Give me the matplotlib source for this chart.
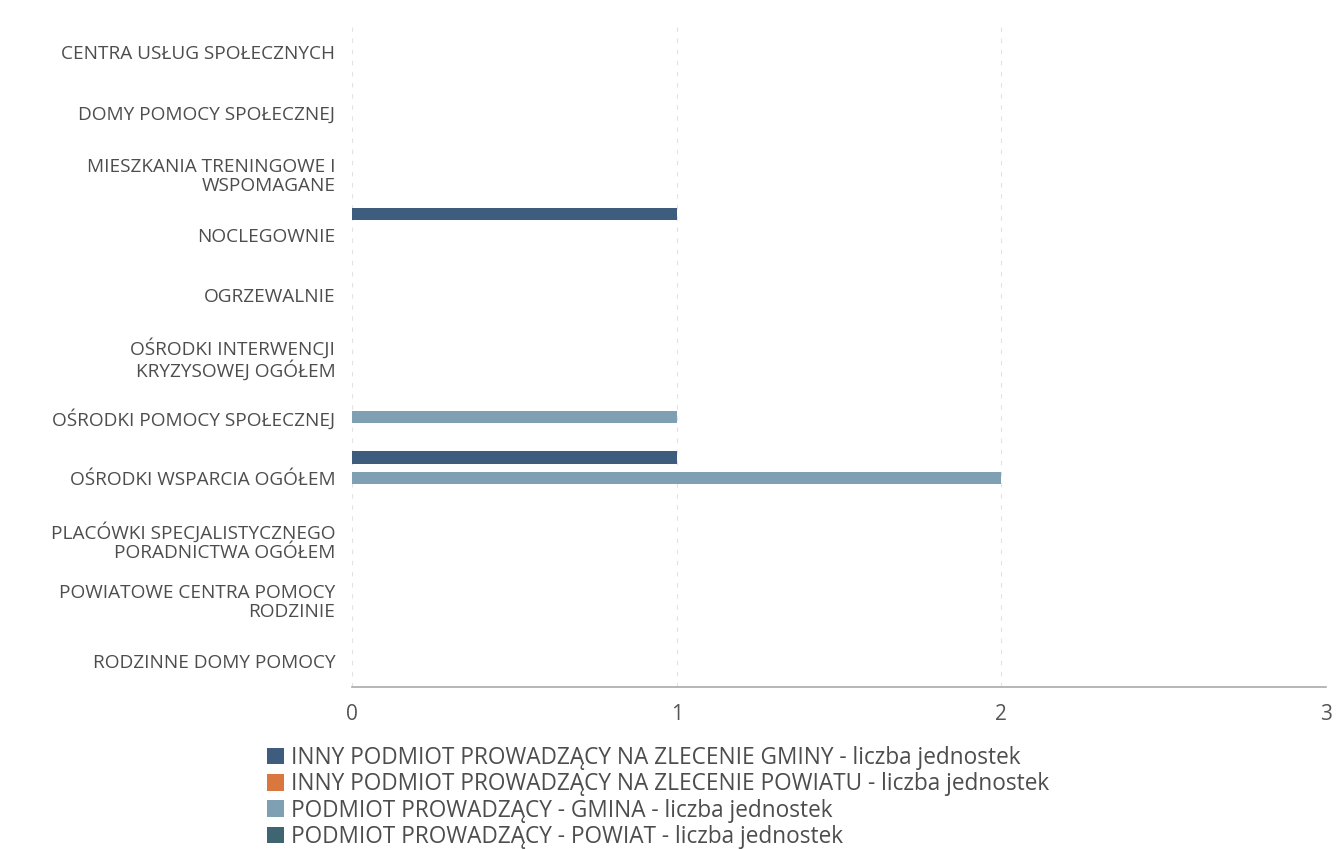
import matplotlib
matplotlib.use("Agg")
import matplotlib.pyplot as plt
from matplotlib.patches import Patch
import numpy as np

plt.rcParams['font.family'] = ['Open Sans', 'DejaVu Sans']

categories = [
    "CENTRA USŁUG SPOŁECZNYCH",
    "DOMY POMOCY SPOŁECZNEJ",
    "MIESZKANIA TRENINGOWE I\nWSPOMAGANE",
    "NOCLEGOWNIE",
    "OGRZEWALNIE",
    "OŚRODKI INTERWENCJI\nKRYZYSOWEJ OGÓŁEM",
    "OŚRODKI POMOCY SPOŁECZNEJ",
    "OŚRODKI WSPARCIA OGÓŁEM",
    "PLACÓWKI SPECJALISTYCZNEGO\nPORADNICTWA OGÓŁEM",
    "POWIATOWE CENTRA POMOCY\nRODZINIE",
    "RODZINNE DOMY POMOCY",
]
series_names = [
    "INNY PODMIOT PROWADZĄCY NA ZLECENIE GMINY - liczba jednostek",
    "INNY PODMIOT PROWADZĄCY NA ZLECENIE POWIATU - liczba jednostek",
    "PODMIOT PROWADZĄCY - GMINA - liczba jednostek",
    "PODMIOT PROWADZĄCY - POWIAT - liczba jednostek",
]
inny_gmina = [0, 0, 0, 1, 0, 0, 0, 1, 0, 0, 0]
inny_powiat = [0, 0, 0, 0, 0, 0, 0, 0, 0, 0, 0]
gmina = [0, 0, 0, 0, 0, 0, 1, 2, 0, 0, 0]
powiat = [0, 0, 0, 0, 0, 0, 0, 0, 0, 0, 0]
x_ticks = [0, 1, 2, 3]

colors = ["#3e5c7e", "#d9773f", "#7f9fb2", "#3f6570"]

fig = plt.figure(figsize=(13.37, 8.5), dpi=100)
ax = fig.add_axes([352/1337, 1-687/850, (1326-352)/1337, (687-22)/850])

y = np.arange(len(categories))
offsets = [-0.34, -0.17, 0.0, 0.17]
h = 0.2
for vals, off, c, name in zip([inny_gmina, inny_powiat, gmina, powiat], offsets, colors, series_names):
    ax.barh(y + off, vals, height=h, color=c, label=name, zorder=3)

ax.set_xlim(0, 3)
ax.set_ylim(10.43, -0.49)
ax.set_yticks(y)
ax.set_yticklabels(categories, fontsize=13.7, color="#4d4d4d", ha="right", linespacing=1.1)
ax.set_xticks(x_ticks)
ax.set_xticklabels([str(v) for v in x_ticks], fontsize=15, color="#555555")
ax.tick_params(axis='y', length=0, pad=12)
ax.tick_params(axis='x', length=0, pad=12)
for s in ["top", "right", "left"]:
    ax.spines[s].set_visible(False)
ax.spines["bottom"].set_color("#aaaaaa")
ax.spines["bottom"].set_linewidth(1.2)
for xv in x_ticks:
    ax.axvline(xv, color="#e2e2e2", lw=0.8, ls=(0, (4, 6)), zorder=1)

handles = [Patch(facecolor=c, edgecolor='none') for c in colors]
fig.legend(handles, series_names, loc="upper left", bbox_to_anchor=(267/1337, 1-746/850),
           frameon=False, fontsize=16.3, labelcolor="#4d4d4d", handlelength=0.75, handleheight=0.75,
           handletextpad=0.3, labelspacing=0.1, borderaxespad=0, borderpad=0)

fig.savefig("out.png", dpi=100)
